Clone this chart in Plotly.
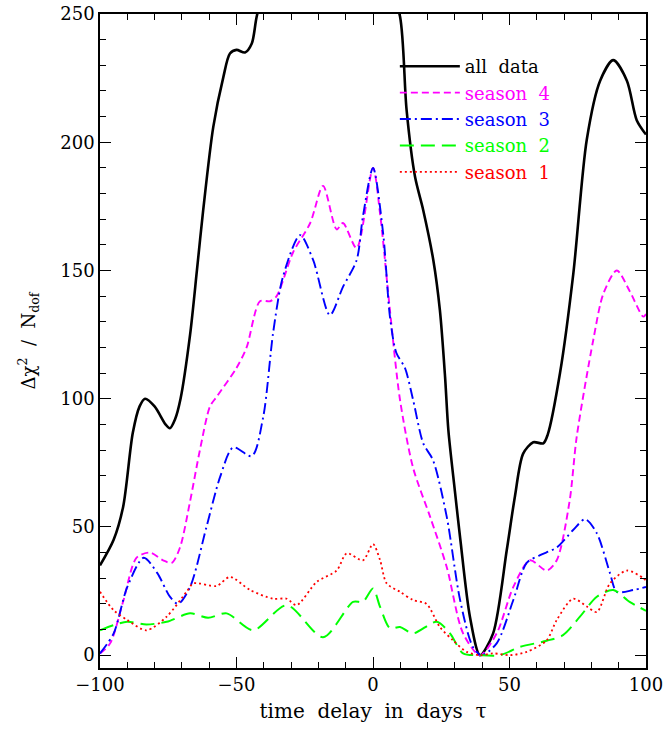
import plotly.graph_objects as go

# all data (black, solid)
tau_all = [-100, -95, -91.5, -88, -85.5, -83.5, -80, -76, -74.4, -72.5, -70.5, -67, -64.5, -62.2, -58.5, -54.8, -52.4, -50,
           -46.9, -44.4, -42.6, -38, -30, -20, -10, 0, 5, 9.9, 12.3, 15.4, 18.4, 22.1, 24.5, 26.4, 27.6, 30, 32, 35.5, 39.2,
           44, 49, 52, 55, 58.7, 62.4, 64, 68.5, 73.4, 78.3, 83.2, 88, 93, 96.6, 100]
chi_all = [35, 45, 58, 86.6, 97, 100, 97, 90, 88.5, 92, 100, 125, 150, 173.5, 206, 225.5, 234.6, 236,
           235, 238.5, 249, 268, 290, 305, 300, 285, 265, 249, 212.6, 186.5, 173.5, 154, 134.5, 108.5, 87.8, 64, 45, 15, 0,
           8.5, 41, 62, 78.6, 83, 82.6, 86, 110, 149, 201, 224, 232, 224, 208.6, 203]

# season 4 (magenta, dashed)
tau_s4 = [-100, -96.3, -91.5, -86.6, -81.7, -76.9, -73.7, -70.7, -67, -63.4, -59.7, -57.3, -50, -46.3, -41.4, -37.7, -35.3,
          -29.3, -23, -18.3, -13.3, -11, -6, 0, 2.6, 6.2, 9.9, 14.7, 20.9, 27, 33, 39.2, 45.3, 51.4, 57.5, 63.6, 67.3, 72,
          74.6, 80.7, 84.4, 89.3, 94, 99, 100]
chi_s4 = [0.7, 4.6, 21, 38, 40, 37, 36, 42, 60, 80, 97, 100.7, 112, 120, 138, 138, 140,
          157, 168.5, 183, 166, 168.5, 158.7, 190, 172, 134.5, 99.5, 73, 54, 34.4, 8.5, 0, 8.5, 26.6, 37, 33, 37, 60,
          85, 123, 141, 150, 142, 132, 133]

# season 3 (blue, dash-dot)
tau_s3 = [-100, -95, -90, -84, -79, -74.4, -71.4, -67, -61, -56, -51.2, -44.4, -40.2, -36.6, -33, -26.7, -21.9, -15.8,
          -11, -6, -3.7, 0, 3.7, 6.2, 8.5, 11.7, 14.7, 18.4, 22, 27, 31.9, 36.6, 39.8, 45.3, 51.4, 56.3, 61.2, 67.3, 73.3,
          77.7, 82, 86.8, 89.3, 95.3, 100]
chi_s3 = [0.7, 8.5, 26.6, 38, 32, 22.8, 20, 26.6, 50, 69.5, 81, 77.6, 93, 125.6, 147.5, 163.8, 154, 132.6,
          143.6, 154, 171, 190, 164.6, 132, 118, 112, 99.5, 82.6, 76, 54, 21.5, 3.2, 0, 4.6, 21.5, 36, 39, 42, 48.8,
          53, 47.5, 32, 24.7, 25.4, 26.6]

# season 2 (green, long dash)
tau_s2 = [-100, -95, -90, -83, -75.6, -67, -60.4, -53.6, -43.9, -31.6, -18.3, -7.3, -3.7, 0, 2.6, 6.2, 9.9, 14.7,
          23.3, 28.2, 33, 39.2, 46.5, 53.8, 63.6, 69.6, 75.8, 82, 88, 94, 100]
chi_s2 = [9.7, 11.7, 13, 12, 13, 16.3, 14.6, 16.3, 9.7, 19.5, 7, 20.8, 20.8, 26, 18.8, 10.5, 11, 8.5,
          13, 8.5, 0.7, 0, 0, 3.2, 5.6, 7.8, 15, 22.8, 25.4, 20.8, 17.3]

# season 1 (red, dotted)
tau_s1 = [-100, -95, -90, -83, -75.6, -68.3, -65.8, -57.3, -52.4, -45, -36.6, -31.6, -28, -20.6, -13.3, -9.6, -3.7, 0,
          2.6, 5, 9.9, 14.7, 19.6, 24.5, 29.3, 34.3, 39.2, 44, 50.2, 56.3, 63.6, 67.3, 73.3, 78.3, 82, 86.8, 93, 99, 100]
chi_s1 = [24.7, 17.5, 13.7, 9.7, 15, 24.7, 28, 27, 30.5, 25.4, 22, 22, 19.5, 28.6, 33, 39.7, 37, 43.3,
          37, 28, 24.7, 21.5, 20, 11, 5.8, 1.3, 0, 0.7, 0, 1.3, 5.8, 13.7, 22, 19, 16.8, 28, 33, 30, 29]

x_ticks = [-100, -50, 0, 50, 100]
y_ticks = [0, 50, 100, 150, 200, 250]

FONT = "DejaVu Serif"

series = [
    ("all  data", tau_all, chi_all, "#000000", "solid", 2.6),
    ("season  4", tau_s4, chi_s4, "#ff00ff", "7px,4px", 1.9),
    ("season  3", tau_s3, chi_s3, "#0000ff", "11px,4px,2px,4px", 1.9),
    ("season  2", tau_s2, chi_s2, "#00ff00", "14px,7px", 2.0),
    ("season  1", tau_s1, chi_s1, "#ff0000", "2px,3px", 1.8),
]

fig = go.Figure()
for name, xs, ys, col, dash, w in series:
    fig.add_trace(go.Scatter(
        x=xs, y=ys, mode="lines", line=dict(color=col, dash=dash, width=w, shape="spline", smoothing=0.8),
        name=f'<span style="color:{col}">{name}</span>'
    ))

axis_common = dict(
    showline=True, linecolor="black", linewidth=1.5, mirror="ticks",
    ticks="inside", ticklen=11, tickwidth=1.2, tickcolor="black",
    showgrid=False, zeroline=False, automargin=False,
    tickfont=dict(family=FONT, size=18, color="black"),
)

fig.update_xaxes(
    range=[-100, 100], tickvals=x_ticks,
    minor=dict(dtick=10, ticklen=6, ticks="inside", tickcolor="black", tickwidth=1.2),
    title=dict(text="time  delay  in  days  τ", font=dict(family=FONT, size=20, color="black"), standoff=10),
    **axis_common,
)
fig.update_yaxes(
    range=[-5, 250], tickvals=y_ticks,
    minor=dict(dtick=10, ticklen=6, ticks="inside", tickcolor="black", tickwidth=1.2),
    title=dict(text="Δχ<sup>2</sup>  /  N<sub>dof</sub>", font=dict(family=FONT, size=18, color="black"), standoff=20),
    **axis_common,
)

fig.update_layout(
    width=665, height=731,
    margin=dict(l=100, r=19, t=14, b=63),
    paper_bgcolor="white", plot_bgcolor="white",
    showlegend=True,
    legend=dict(x=0.54, y=0.948, xanchor="left", yanchor="top",
                bgcolor="rgba(0,0,0,0)", font=dict(family=FONT, size=18, color="black"),
                itemwidth=60, tracegroupgap=0),
)

fig.write_html("out.html")
